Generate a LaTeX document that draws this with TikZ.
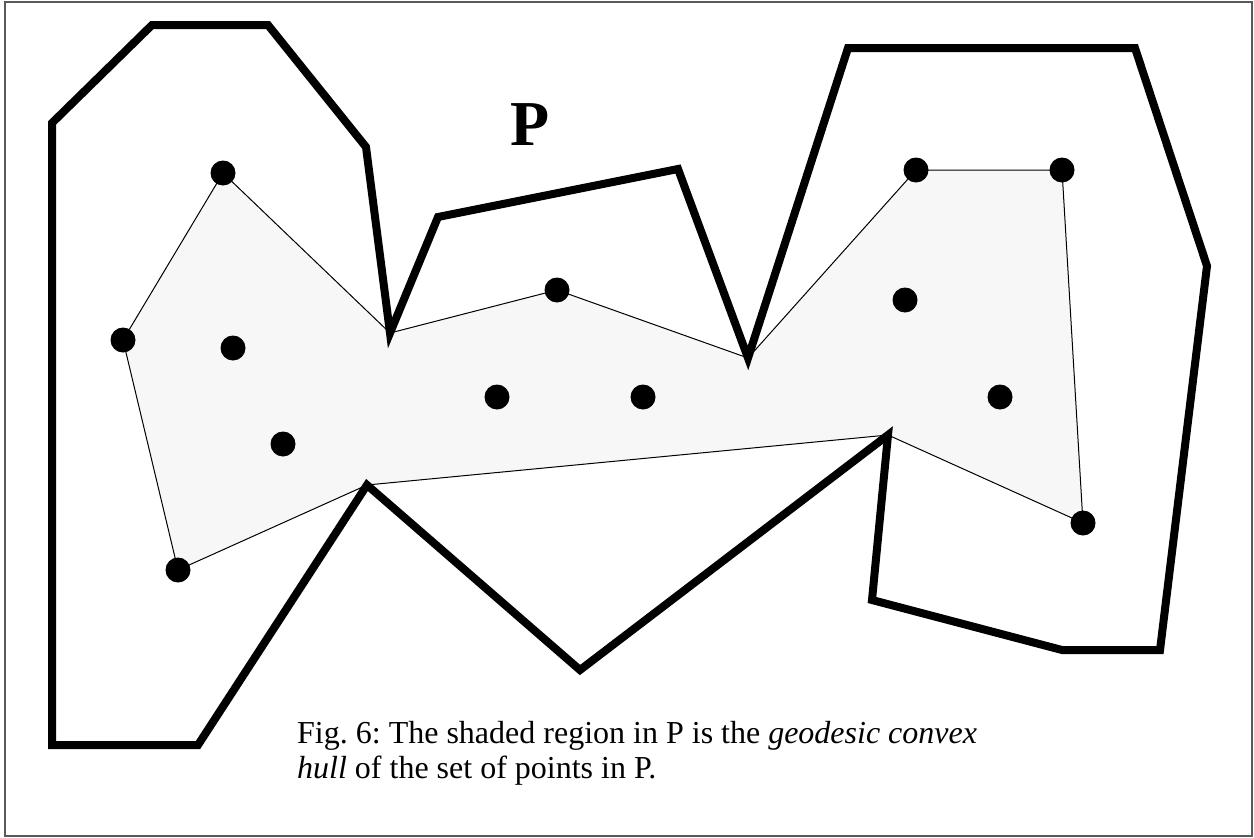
\documentclass[tikz,border=0pt]{standalone}
\usepackage{fontspec}
\setmainfont{Liberation Serif}
\frenchspacing
\begin{document}
\begin{tikzpicture}[x=1pt,y=-1pt,
  poly/.style={line width=8pt,line join=miter,miter limit=10},
  hull/.style={line width=1pt,fill=hullgray},
  pt/.style={circle,fill=black,inner sep=0pt,minimum size=25pt},
  frame/.style={draw=black!65,line width=1.5pt}]
\definecolor{hullgray}{HTML}{F7F7F7}
\useasboundingbox (0,0) rectangle (1254,838);
\draw[frame] (5,2) rectangle (1252,836);
% hull vertices that are polygon vertices
\coordinate (r1) at (390,333);
\coordinate (r2) at (748,358);
\coordinate (r3) at (888,435);
\coordinate (r4) at (367,485);
% points
\coordinate (c1) at (223,173);
\coordinate (c2) at (123,340);
\coordinate (c3) at (178,570);
\coordinate (c4) at (557,290);
\coordinate (c5) at (916,170);
\coordinate (c6) at (1062,170);
\coordinate (c7) at (1083,523);
\draw[hull] (c1) -- (r1) -- (c4) -- (r2) -- (c5) -- (c6) -- (c7) -- (r3) -- (r4) -- (c3) -- (c2) -- cycle;
\draw[poly] (52,123) -- (152,25) -- (268,25) -- (366,147) -- (r1) -- (438,217) -- (678,169) -- (r2)
  -- (848,48) -- (1135,48) -- (1207,266) -- (1160,650) -- (1062,650) -- (872,600) -- (r3)
  -- (580,670) -- (r4) -- (198,745) -- (52,745) -- cycle;
\node[pt] (p1) at (c1) {};
\node[pt] (p2) at (c2) {};
\node[pt] (p3) at (233,348) {};
\node[pt] (p4) at (283,444) {};
\node[pt] (p5) at (c3) {};
\node[pt] (p6) at (c4) {};
\node[pt] (p7) at (497,397) {};
\node[pt] (p8) at (643,397) {};
\node[pt] (p9) at (c5) {};
\node[pt] (p10) at (c6) {};
\node[pt] (p11) at (905,300) {};
\node[pt] (p12) at (1000,397) {};
\node[pt] (p13) at (c7) {};
\node[font=\fontsize{64}{64}\selectfont\bfseries,anchor=base] (lab) at (530,145) {P};
\node[font=\fontsize{32}{35}\selectfont,anchor=base west,align=left,inner sep=0pt] (cap) at (297,778)
  {Fig. 6: The shaded region in P is the \textit{geodesic convex}\\\textit{hull} of the set of points in P.};
\end{tikzpicture}
\end{document}
